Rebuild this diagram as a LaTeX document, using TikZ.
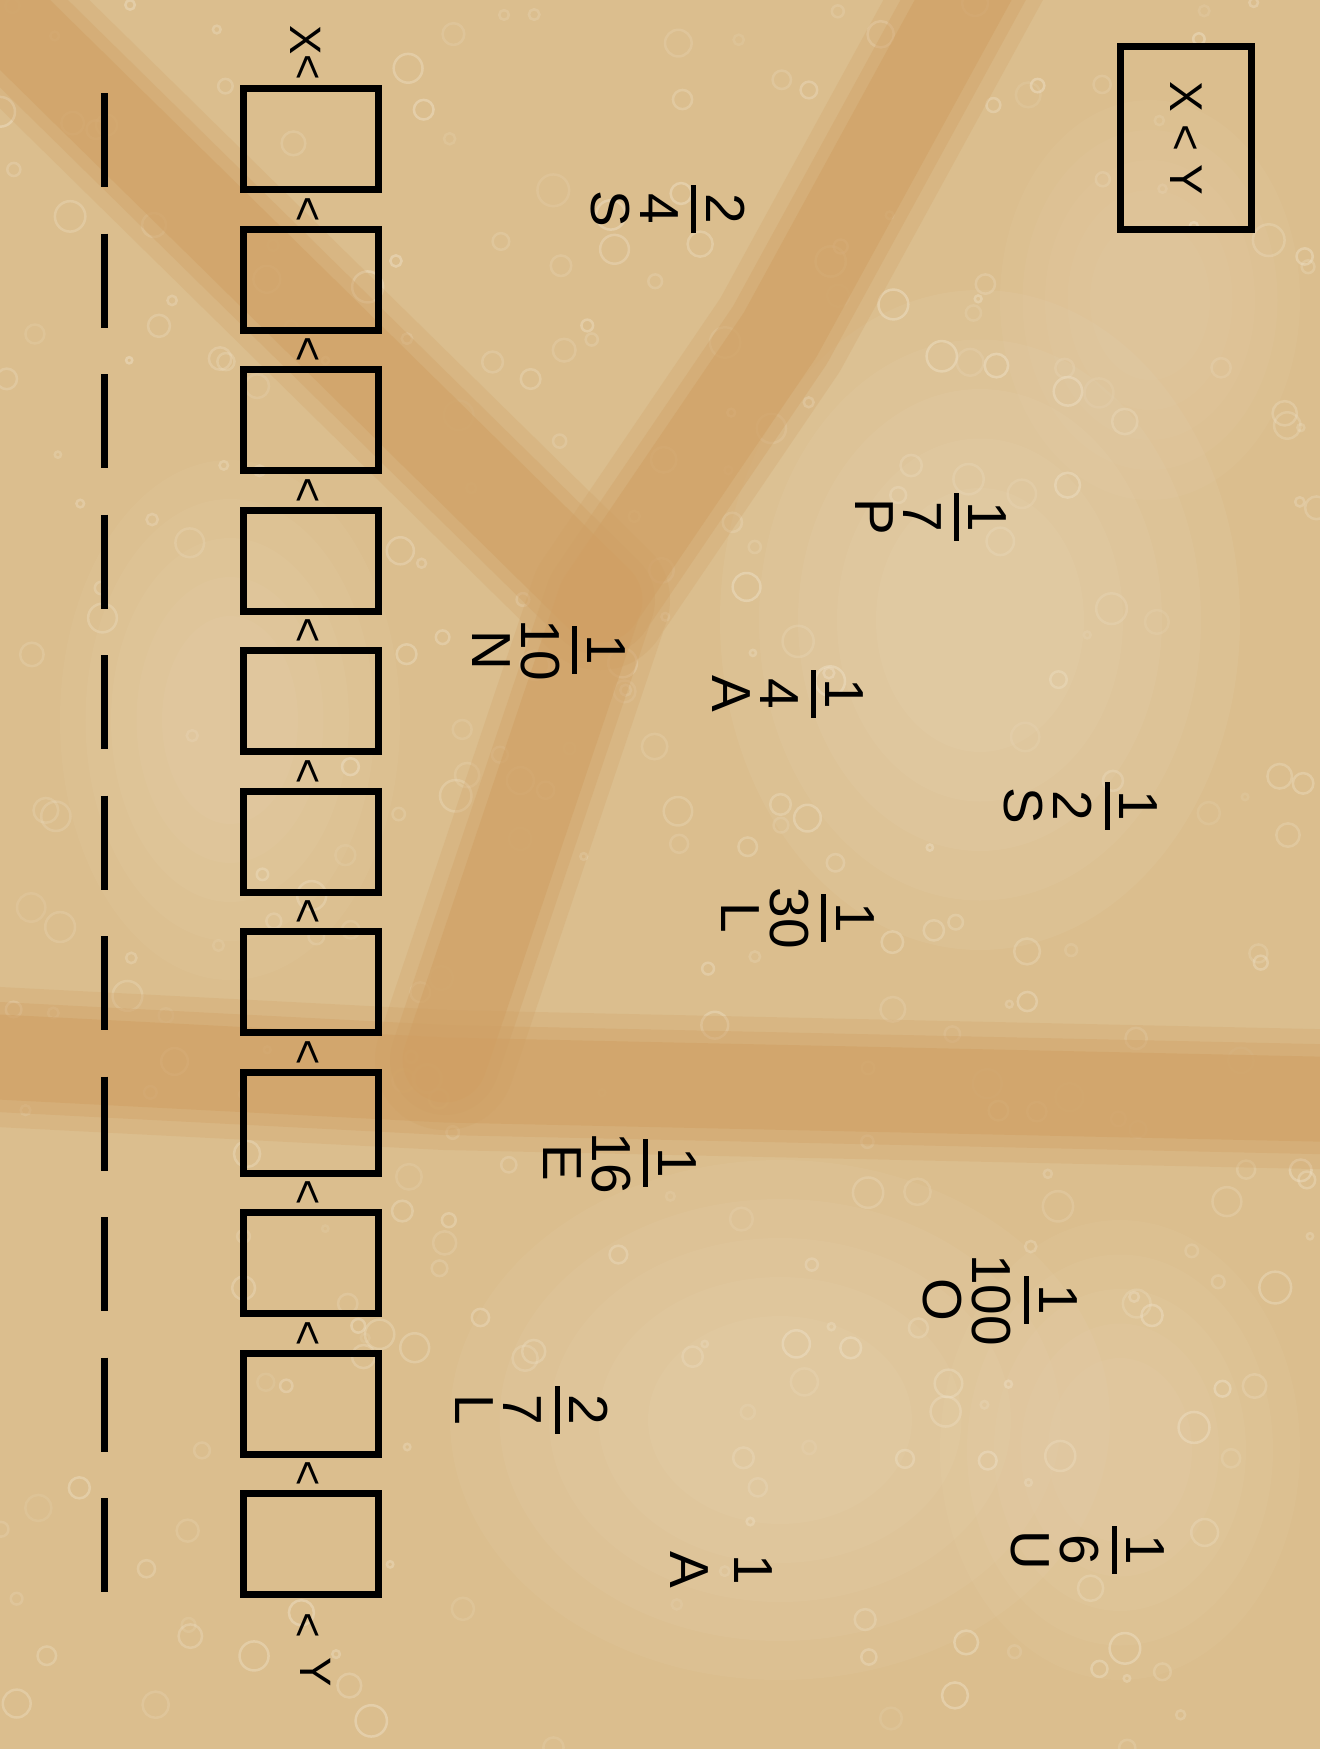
\documentclass[tikz,border=0pt]{standalone}
\usepackage{fontspec}
\setmainfont{Liberation Sans}
\usetikzlibrary{positioning}

\definecolor{stone}{RGB}{219,190,142}
\definecolor{veincol}{RGB}{208,160,100}
\definecolor{chalk}{RGB}{238,224,198}

% numerator / bar / denominator / letter, stacked
\newcommand{\fracstack}[3]{\vbox{\offinterlineskip\halign{\hfil##\hfil\cr
  #1\cr\noalign{\kern10pt}\rule{48pt}{5pt}\cr\noalign{\kern13pt}
  #2\cr\noalign{\kern10pt}#3\cr}}}
\newcommand{\plainstack}[2]{\vbox{\offinterlineskip\halign{\hfil##\hfil\cr
  #1\cr\noalign{\kern26pt}#2\cr}}}

\begin{document}
\begin{tikzpicture}[x=1pt, y=-1pt,
      cell/.style={draw, line width=7pt, minimum width=135pt,
          minimum height=101pt, inner sep=0pt},
      keybox/.style={draw, line width=7pt, rotate=-90,
          minimum width=183pt, minimum height=131pt, inner sep=0pt,
          font=\fontsize{46}{50}\selectfont},
      sign/.style={rotate=-90, inner sep=0pt,
          font=\fontsize{44}{48}\selectfont},
      fracnode/.style={rotate=-90, inner sep=0pt,
          font=\fontsize{55}{60}\selectfont},
      vein/.style={draw=veincol, line cap=round, line join=round},
      rail/.style={line width=7pt, dash pattern=on 94pt off 46.5pt},
    ]

    %% --- Stone background ---
    \path[use as bounding box] (0,0) rectangle (1320,1749);
    \fill[stone] (0,0) rectangle (1320,1749);
    \foreach \s in {1.0,0.85,0.7,0.55,0.4} {
      \fill[chalk, opacity=.09] (980,620) ellipse ({260*\s} and {330*\s});
      \fill[chalk, opacity=.08] (780,1420) ellipse ({330*\s} and {260*\s});
      \fill[chalk, opacity=.07] (230,720) ellipse ({170*\s} and {260*\s});
      \fill[chalk, opacity=.07] (1120,1450) ellipse ({180*\s} and {230*\s});
      \fill[chalk, opacity=.06] (1150,300) ellipse ({150*\s} and {200*\s});
    }
    \pgfmathsetseed{11}
    \foreach \i in {1,...,320} {
      \pgfmathsetmacro{\px}{rnd*1320}
      \pgfmathsetmacro{\py}{rnd*1749}
      \pgfmathsetmacro{\pr}{3+rnd*13}
      \pgfmathsetmacro{\po}{.15+rnd*.35}
      \draw[chalk, opacity=\po, line width=2.5pt] (\px,\py) circle (\pr);
    }

    %% --- Veins ---
    \foreach \w/\o in {140/.25, 110/.35, 85/.55} {
      \draw[vein, line width=\w pt, opacity=\o]
        (20,30) -- (600,600);
      \draw[vein, line width=\w pt, opacity=\o]
        (985,-40) -- (780,335) -- (600,600) -- (445,1060);
      \draw[vein, line width=\w pt, opacity=\o]
        (-40,1055) -- (445,1080) -- (1360,1100);
    }

    %% --- Key (top right) ---
    \node[keybox] (key) at (1186,138) {X < Y};

    %% --- Dashed rail ---
    \coordinate (dtop) at (104,93);
    \coordinate (dbot) at (104,1592);
    \draw[rail] (dtop) -- (dbot);

    %% --- Chain of cells ---
    \node[sign] (xlab) at (306,40)  {X};
    \node[sign] (lt0)  at (306,67)  {<};
    \node[cell] (c1)  at (311,139)    {};
    \node[sign] (lt1)  at (306,209.2) {<};
    \node[cell] (c2)  at (311,279.5)  {};
    \node[sign] (lt2)  at (306,349.7) {<};
    \node[cell] (c3)  at (311,420)    {};
    \node[sign] (lt3)  at (306,490.2) {<};
    \node[cell] (c4)  at (311,560.5)  {};
    \node[sign] (lt4)  at (306,630.7) {<};
    \node[cell] (c5)  at (311,701)    {};
    \node[sign] (lt5)  at (306,771.2) {<};
    \node[cell] (c6)  at (311,841.5)  {};
    \node[sign] (lt6)  at (306,911.7) {<};
    \node[cell] (c7)  at (311,982)    {};
    \node[sign] (lt7)  at (306,1052.2) {<};
    \node[cell] (c8)  at (311,1122.5) {};
    \node[sign] (lt8)  at (306,1192.7) {<};
    \node[cell] (c9)  at (311,1263)   {};
    \node[sign] (lt9)  at (306,1333.2) {<};
    \node[cell] (c10) at (311,1403.5) {};
    \node[sign] (lt10) at (306,1473.7) {<};
    \node[cell] (c11) at (311,1544)   {};
    \node[sign] (lt11) at (306,1625)  {<};
    \node[sign] (ylab) at (316,1672)  {Y};

    %% --- Fractions ---
    \node[fracnode] (fS1) at (668,209)   {\fracstack{2}{4}{S}};
    \node[fracnode] (fP)  at (931,517)   {\fracstack{1}{7}{P}};
    \node[fracnode] (fN)  at (549,650)   {\fracstack{1}{10}{N}};
    \node[fracnode] (fA1) at (788,694)   {\fracstack{1}{4}{A}};
    \node[fracnode] (fS2) at (1081,806)  {\fracstack{1}{2}{S}};
    \node[fracnode] (fL1) at (798,918)   {\fracstack{1}{30}{L}};
    \node[fracnode] (fE)  at (620,1163)  {\fracstack{1}{16}{E}};
    \node[fracnode] (fO)  at (1000,1300) {\fracstack{1}{100}{O}};
    \node[fracnode] (fL2) at (532,1410)  {\fracstack{2}{7}{L}};
    \node[fracnode] (fU)  at (1088,1550) {\fracstack{1}{6}{U}};
    \node[fracnode] (fA2) at (721,1570)  {\plainstack{1}{A}};

  \end{tikzpicture}
\end{document}
